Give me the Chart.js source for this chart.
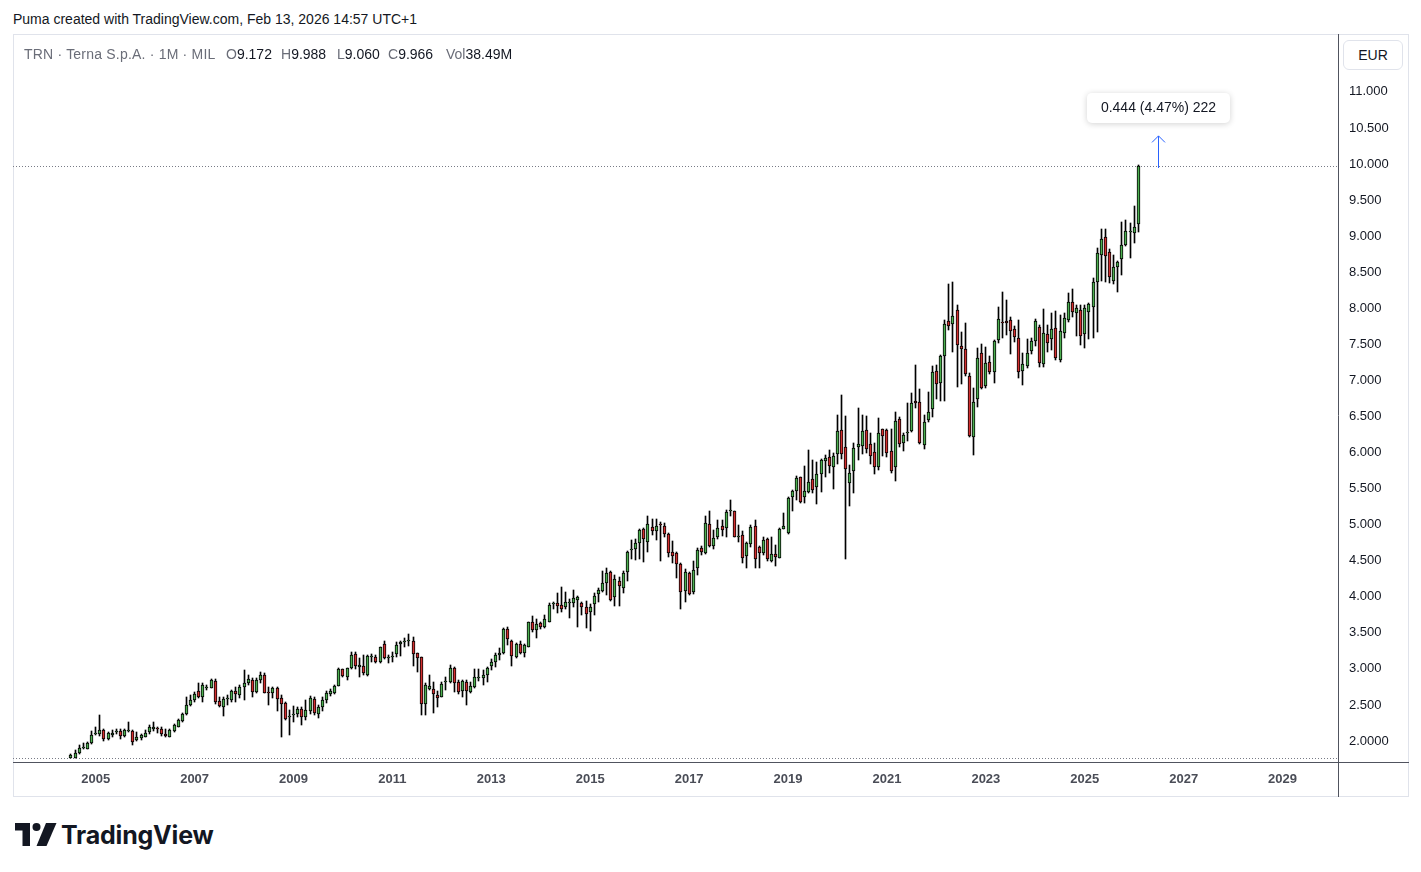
<!DOCTYPE html>
<html>
<head>
<meta charset="utf-8">
<script src="https://cdn.jsdelivr.net/npm/chart.js@4.4.1/dist/chart.umd.min.js"></script>
<style>
  html,body{margin:0;padding:0;background:#fff;}
  body{width:1421px;height:872px;overflow:hidden;position:relative;font-family:"Liberation Sans",Arial,sans-serif;color:#131722;}
  #credit{position:absolute;left:13px;top:10px;font-size:14px;line-height:18px;color:#131722;white-space:nowrap;}
  #frame{position:absolute;left:13px;top:34px;width:1396px;height:763px;box-sizing:border-box;border:1px solid #e0e3eb;}
  #wrap{position:absolute;left:13px;top:34px;width:1396px;height:763px;}
  .hd{position:absolute;top:45px;font-size:14px;line-height:18px;white-space:nowrap;color:#131722;}
  .g{color:#6a6d78;}
  #eur{position:absolute;left:1343px;top:40px;width:60px;height:30px;box-sizing:border-box;border:1px solid #e0e3eb;border-radius:6px;font-size:14px;line-height:28px;text-align:center;color:#131722;background:#fff;}
  #logo{position:absolute;left:15px;top:823px;}
  #logotxt{position:absolute;left:61px;top:819px;font-family:Inter,"Liberation Sans",sans-serif;font-weight:700;font-size:25px;line-height:32px;color:#131722;letter-spacing:-0.2px;}
</style>
</head>
<body>
<div id="credit">Puma created with TradingView.com, Feb 13, 2026 14:57 UTC+1</div>
<div id="frame"></div>
<div id="wrap"><canvas id="c" width="1396" height="763" style="width:1396px;height:763px;"></canvas></div>
<div class="hd g" style="left:24px;letter-spacing:0.2px;">TRN · Terna S.p.A. · 1M · MIL</div>
<div class="hd" style="left:226px;"><span class="g">O</span>9.172</div>
<div class="hd" style="left:281px;"><span class="g">H</span>9.988</div>
<div class="hd" style="left:337px;"><span class="g">L</span>9.060</div>
<div class="hd" style="left:388px;"><span class="g">C</span>9.966</div>
<div class="hd" style="left:446px;"><span class="g">Vol</span>38.49M</div>
<div id="eur">EUR</div>
<svg id="logo" width="42" height="24" viewBox="0 0 42 24">
  <path d="M0 0 H15 V23 H7.5 V7.5 H0 Z" fill="#131722"/>
  <circle cx="21.5" cy="4" r="4" fill="#131722"/>
  <path d="M31 0 H41.5 L31.5 23 H21.5 Z" fill="#131722"/>
</svg>
<div id="logotxt">TradingView</div>
<script>
// ---- data (monthly candles, Terna S.p.A., first candle Jul 2004) ----
const startYear = 2004;
const startMonth = 7;
const opens = [
1.77,1.77,1.83,1.90,1.89,1.97,2.10,2.10,2.15,2.03,
2.09,2.12,2.14,2.07,2.14,2.14,2.02,2.035,2.06,2.12,
2.16,2.18,2.16,2.10,2.06,2.14,2.20,2.28,2.375,2.50,
2.57,2.69,2.615,2.74,2.74,2.83,2.555,2.47,2.585,2.57,
2.70,2.64,2.745,2.81,2.85,2.685,2.85,2.915,2.67,2.66,
2.73,2.59,2.53,2.33,2.36,2.375,2.44,2.33,2.41,2.58,
2.37,2.467,2.57,2.647,2.67,2.768,2.994,2.892,3.008,3.207,
3.03,3.045,2.91,3.17,3.16,3.10,3.345,3.15,3.16,3.202,
3.34,3.378,3.39,3.387,3.216,3.16,2.513,2.716,2.721,2.638,
2.614,2.82,2.823,3.008,2.813,2.69,2.823,2.684,2.744,2.88,
2.869,2.915,3.04,3.10,3.188,3.216,3.548,3.387,3.17,3.345,
3.216,3.308,3.645,3.539,3.632,3.585,3.655,3.90,3.909,3.885,
3.853,3.92,3.918,3.954,3.908,3.862,3.784,3.894,4.033,4.084,
4.185,4.347,3.991,4.222,4.116,4.347,4.655,4.657,4.749,4.934,
4.763,4.962,4.916,4.995,4.98,4.865,4.615,4.601,4.449,4.084,
4.333,4.061,4.394,4.671,4.601,5.004,4.708,4.832,4.98,4.948,
5.188,5.189,4.832,4.855,4.569,4.726,4.98,4.685,4.611,4.8,
4.491,4.587,4.541,4.939,4.879,5.378,5.471,5.655,5.378,5.457,
5.628,5.526,5.697,5.886,5.932,5.803,5.974,6.311,6.071,5.581,
5.739,6.071,6.094,6.311,6.113,6.002,5.794,6.321,6.311,6.02,
5.794,6.459,6.127,6.274,6.302,6.718,6.704,6.103,6.45,6.598,
7.13,6.959,7.342,7.823,7.777,7.975,7.476,7.435,7.06,6.219,
6.737,7.375,6.922,7.25,7.12,7.559,7.814,7.823,7.837,7.707,
7.583,7.134,7.199,7.407,7.55,7.744,7.222,7.642,7.573,7.73,
7.282,7.652,7.836,8.081,7.938,7.975,7.638,7.952,8.022,8.368,
8.738,8.983,8.775,8.377,8.576,8.677,8.877,9.06,9.038,9.172
];
const highs = [
1.82,1.875,1.94,1.97,1.99,2.14,2.19,2.36,2.16,2.13,
2.15,2.17,2.16,2.16,2.27,2.15,2.12,2.10,2.15,2.22,
2.27,2.19,2.19,2.16,2.16,2.23,2.31,2.39,2.61,2.64,
2.68,2.80,2.80,2.78,2.855,2.855,2.615,2.615,2.64,2.71,
2.75,2.78,2.985,2.915,2.87,2.87,2.95,2.94,2.75,2.755,
2.745,2.64,2.545,2.43,2.485,2.475,2.465,2.57,2.62,2.615,
2.50,2.605,2.698,2.717,2.777,3.008,2.998,3.017,3.23,3.23,
3.146,3.193,3.193,3.21,3.193,3.308,3.391,3.193,3.239,3.378,
3.391,3.424,3.484,3.447,3.225,3.17,2.80,2.915,2.823,2.698,
2.823,2.883,3.054,3.031,2.846,2.846,2.846,2.823,2.998,2.998,
2.985,3.031,3.133,3.225,3.285,3.562,3.576,3.40,3.364,3.387,
3.345,3.655,3.733,3.687,3.655,3.747,3.918,3.932,4.047,4.13,
4.07,3.968,4.093,4.014,3.931,3.945,3.899,4.047,4.116,4.356,
4.393,4.361,4.301,4.268,4.361,4.638,4.786,4.795,4.934,4.948,
5.119,5.073,5.073,5.041,5.027,4.888,4.777,4.625,4.472,4.38,
4.347,4.50,4.671,4.703,5.119,5.189,4.925,5.064,5.064,5.203,
5.341,5.193,4.994,4.916,4.763,4.994,5.064,4.703,4.823,4.819,
4.823,4.717,4.948,5.156,5.378,5.48,5.674,5.665,5.812,6.034,
5.896,5.872,5.905,5.965,6.034,5.997,6.519,6.797,6.505,5.826,
6.127,6.612,6.519,6.505,6.265,6.136,6.473,6.33,6.321,6.321,
6.565,6.487,6.274,6.681,6.82,7.213,6.875,6.519,6.833,7.199,
7.213,7.352,7.837,8.336,8.359,8.045,7.675,7.8,7.097,6.89,
7.444,7.504,7.458,7.338,7.559,8.022,8.23,8.114,7.883,7.753,
7.837,7.375,7.569,7.583,7.846,7.767,7.985,7.767,7.929,7.962,
7.906,7.929,8.206,8.266,8.044,8.044,8.044,8.067,8.423,8.83,
9.098,9.098,8.821,8.738,8.655,9.2,9.223,9.177,9.422,9.988
];
const lows = [
1.76,1.765,1.82,1.89,1.885,1.96,2.08,2.07,2.005,2.02,
2.06,2.10,2.03,2.06,2.13,1.945,2.005,2.02,2.05,2.10,
2.14,2.11,2.07,2.05,2.05,2.13,2.19,2.27,2.36,2.485,
2.545,2.59,2.545,2.71,2.73,2.52,2.47,2.35,2.50,2.545,
2.545,2.59,2.57,2.775,2.615,2.66,2.81,2.66,2.50,2.59,
2.415,2.05,2.29,2.08,2.27,2.33,2.22,2.29,2.375,2.36,
2.315,2.42,2.532,2.63,2.652,2.763,2.883,2.846,2.994,2.994,
2.892,2.915,2.902,3.10,3.077,3.086,3.133,3.077,3.10,3.17,
3.179,3.30,3.32,3.045,2.952,2.36,2.36,2.707,2.393,2.476,
2.605,2.707,2.80,2.684,2.652,2.605,2.50,2.661,2.73,2.837,
2.777,2.823,2.985,3.022,3.123,3.207,3.331,3.045,3.155,3.207,
3.17,3.299,3.516,3.424,3.548,3.571,3.645,3.826,3.77,3.793,
3.825,3.70,3.862,3.585,3.746,3.562,3.529,3.746,3.931,4.07,
4.024,3.945,3.871,3.871,4.056,4.222,4.518,4.509,4.518,4.486,
4.625,4.856,4.786,4.50,4.823,4.555,4.463,4.255,3.825,3.931,
4.024,4.037,4.301,4.578,4.592,4.694,4.657,4.796,4.842,4.832,
5.119,4.832,4.763,4.472,4.394,4.685,4.394,4.394,4.578,4.5,
4.486,4.426,4.532,4.934,4.87,5.193,5.341,5.295,5.295,5.433,
5.433,5.285,5.456,5.655,5.72,5.489,5.84,5.905,4.523,5.262,
5.442,5.895,5.978,5.988,5.84,5.701,5.757,5.955,5.932,5.72,
5.609,6.071,6.025,6.163,6.288,6.621,6.117,6.043,6.427,6.496,
6.736,6.718,6.718,7.698,7.398,6.903,6.949,7.06,6.22,5.965,
6.626,6.875,6.889,7.083,6.968,7.513,7.592,7.629,7.36,7.536,
7.028,6.936,7.166,7.365,7.476,7.19,7.19,7.397,7.421,7.282,
7.259,7.582,7.813,7.883,7.619,7.49,7.453,7.573,7.582,7.674,
8.377,8.368,8.345,8.331,8.229,8.46,8.867,8.701,8.9,9.060
];
const closes = [
1.81,1.84,1.90,1.91,1.97,2.09,2.11,2.15,2.03,2.11,
2.11,2.13,2.07,2.15,2.145,1.99,2.06,2.08,2.11,2.19,
2.19,2.17,2.10,2.07,2.15,2.22,2.29,2.375,2.50,2.57,
2.65,2.615,2.776,2.745,2.84,2.545,2.49,2.58,2.59,2.69,
2.65,2.745,2.80,2.86,2.685,2.84,2.915,2.67,2.66,2.74,
2.58,2.51,2.31,2.335,2.37,2.45,2.33,2.43,2.59,2.384,
2.476,2.57,2.67,2.694,2.763,2.994,2.90,3.008,3.193,3.04,
3.06,2.94,3.179,3.175,3.10,3.299,3.147,3.155,3.17,3.331,
3.378,3.383,3.395,3.202,3.147,2.508,2.777,2.762,2.652,2.591,
2.79,2.825,3.008,2.80,2.684,2.832,2.698,2.762,2.883,2.887,
2.915,3.008,3.10,3.193,3.216,3.548,3.41,3.183,3.345,3.216,
3.331,3.645,3.539,3.622,3.585,3.687,3.886,3.905,3.876,3.834,
3.922,3.925,3.977,4.0,3.862,3.756,3.862,4.014,4.093,4.195,
4.324,3.954,4.241,4.149,4.333,4.615,4.66,4.74,4.925,4.795,
5.008,4.916,4.98,4.99,4.865,4.611,4.569,4.449,4.07,4.347,
4.037,4.37,4.648,4.615,5.017,4.708,4.809,4.948,4.925,5.179,
5.192,4.832,4.835,4.541,4.74,4.962,4.518,4.611,4.786,4.518,
4.587,4.555,4.934,4.98,5.364,5.466,5.642,5.318,5.466,5.586,
5.48,5.697,5.895,5.923,5.817,5.951,6.297,5.974,5.766,5.711,
6.057,6.113,6.297,6.043,5.955,5.794,6.265,6.233,5.988,5.748,
6.436,6.117,6.242,6.278,6.691,6.681,6.127,6.427,6.565,7.111,
6.945,7.338,7.781,7.758,7.892,7.49,7.439,7.088,6.233,6.695,
7.305,6.889,7.236,7.12,7.55,7.846,7.79,7.79,7.684,7.606,
7.12,7.222,7.384,7.546,7.823,7.236,7.652,7.513,7.707,7.305,
7.684,7.86,8.081,7.952,8.007,7.619,8.007,8.054,8.358,8.761,
8.96,8.729,8.437,8.576,8.636,8.872,9.075,9.065,9.121,9.966
];
const yearTicks = [2005,2007,2009,2011,2013,2015,2017,2019,2021,2023,2025,2027,2029];
const priceTicks = [2,2.5,3,3.5,4,4.5,5,5.5,6,6.5,7,7.5,8,8.5,9,9.5,10,10.5,11];
const measureText = '0.444 (4.47%) 222';
const measureMonth = 257.75;   // months since Jan 2005
const measureFrom = 9.945;
const measureTo = 10.39;

// ---- build ----
const baseYear = 2005;
const months = closes.map((_, i) => (startYear - baseYear) * 12 + (startMonth - 1) + i);
const UP = '#4caf50', DOWN = '#d32f2f';
const bodyData = months.map((m, i) => ({x: m, y: [Math.min(opens[i], closes[i]), Math.max(opens[i], closes[i])]}));
const wickData = months.map((m, i) => ({x: m, y: [lows[i], highs[i]]}));
const bodyColors = closes.map((c, i) => c >= opens[i] ? UP : DOWN);

const XMIN = -20.07, XMAX = 301.45;
const YMIN = 1.709, YMAX = 11.789;

const snap = {
  id: 'snap',
  afterDatasetsUpdate(chart) {
    chart.data.datasets.forEach((ds, di) => {
      const meta = chart.getDatasetMeta(di);
      meta.data.forEach(el => {
        el.x = Math.floor(el.x) + 0.5;
        let y = Math.round(el.y), b = Math.round(el.base);
        if (y === b) b = y + 1;
        el.y = y; el.base = b;
      });
    });
  }
};

const deco = {
  id: 'deco',
  beforeDatasetsDraw(chart) {
    const {ctx, chartArea: ca, scales} = chart;
    ctx.save();
    ctx.strokeStyle = '#787b86';
    ctx.lineWidth = 1;
    ctx.setLineDash([1, 2]);
    const yl = Math.round(scales.y.getPixelForValue(closes[closes.length - 1])) + 0.5;
    ctx.beginPath(); ctx.moveTo(ca.left, yl); ctx.lineTo(ca.right, yl); ctx.stroke();
    const yb = Math.round(ca.bottom) - 3.5;
    ctx.beginPath(); ctx.moveTo(ca.left, yb); ctx.lineTo(ca.right, yb); ctx.stroke();
    ctx.restore();
  },
  afterDraw(chart) {
    const {ctx, chartArea: ca, scales, width, height} = chart;
    ctx.save();
    ctx.strokeStyle = '#50535e';
    ctx.lineWidth = 1;
    ctx.beginPath();
    ctx.moveTo(Math.round(ca.right) + 0.5, 0); ctx.lineTo(Math.round(ca.right) + 0.5, height);
    ctx.moveTo(0, Math.round(ca.bottom) + 0.5); ctx.lineTo(width, Math.round(ca.bottom) + 0.5);
    ctx.stroke();
    const x = Math.round(scales.x.getPixelForValue(measureMonth)) + 0.5;
    const y0 = scales.y.getPixelForValue(measureFrom);
    const y1 = scales.y.getPixelForValue(measureTo);
    ctx.strokeStyle = '#2962ff';
    ctx.beginPath(); ctx.moveTo(x, y0); ctx.lineTo(x, y1); ctx.stroke();
    ctx.beginPath(); ctx.moveTo(x - 6.5, y1 + 6.5); ctx.lineTo(x, y1); ctx.lineTo(x + 6.5, y1 + 6.5); ctx.stroke();
    const bw = 143, bh = 30;
    const bx = x - bw / 2, by = y1 - 13 - bh;
    ctx.shadowColor = 'rgba(0,0,0,0.18)';
    ctx.shadowBlur = 6;
    ctx.shadowOffsetY = 1;
    ctx.fillStyle = '#fff';
    ctx.beginPath();
    ctx.roundRect(bx, by, bw, bh, 5);
    ctx.fill();
    ctx.shadowColor = 'transparent';
    ctx.fillStyle = '#131722';
    ctx.font = '14px "Liberation Sans", Arial, sans-serif';
    ctx.textAlign = 'center';
    ctx.textBaseline = 'middle';
    ctx.fillText(measureText, x, by + bh / 2 + 0.5);
    ctx.restore();
  }
};

new Chart(document.getElementById('c'), {
  type: 'bar',
  data: {
    datasets: [
      {
        label: 'body', data: bodyData, order: 0, grouped: false,
        backgroundColor: bodyColors, borderColor: '#000', borderWidth: 1,
        borderSkipped: false, barThickness: 3, minBarLength: 1
      },
      {
        label: 'wick', data: wickData, order: 1, grouped: false,
        backgroundColor: '#000', borderWidth: 0, barThickness: 1
      }
    ]
  },
  options: {
    responsive: false,
    devicePixelRatio: 1,
    animation: false,
    events: [],
    layout: {padding: {top: 1, left: 0, right: 0, bottom: 0}},
    plugins: {legend: {display: false}, tooltip: {enabled: false}},
    scales: {
      x: {
        type: 'linear', position: 'bottom', min: XMIN, max: XMAX, offset: false,
        grid: {display: false, drawTicks: false, offset: false},
        border: {display: false},
        afterBuildTicks: s => { s.ticks = yearTicks.map(y => ({value: (y - baseYear) * 12})); },
        afterFit: s => { s.height = 35; s.paddingLeft = 0; s.paddingRight = 0; s.paddingTop = 0; s.paddingBottom = 0; },
        ticks: {
          autoSkip: false, maxRotation: 0, minRotation: 0, padding: 10,
          color: '#4a4d57',
          font: {family: '"Liberation Sans", Arial, sans-serif', size: 13, weight: 'bold'},
          callback: v => String(baseYear + Math.round(v / 12))
        }
      },
      y: {
        type: 'linear', position: 'right', min: YMIN, max: YMAX,
        grid: {display: false, drawTicks: false},
        border: {display: false},
        afterBuildTicks: s => { s.ticks = priceTicks.map(v => ({value: v})); },
        afterFit: s => { s.width = 71; s.paddingLeft = 0; s.paddingRight = 0; s.paddingTop = 0; s.paddingBottom = 0; },
        ticks: {
          autoSkip: false, padding: 11,
          color: '#131722',
          font: {family: '"Liberation Sans", Arial, sans-serif', size: 13},
          callback: v => v === 2 ? '2.0000' : v.toFixed(3)
        }
      }
    }
  },
  plugins: [snap, deco]
});
</script>
</body>
</html>
